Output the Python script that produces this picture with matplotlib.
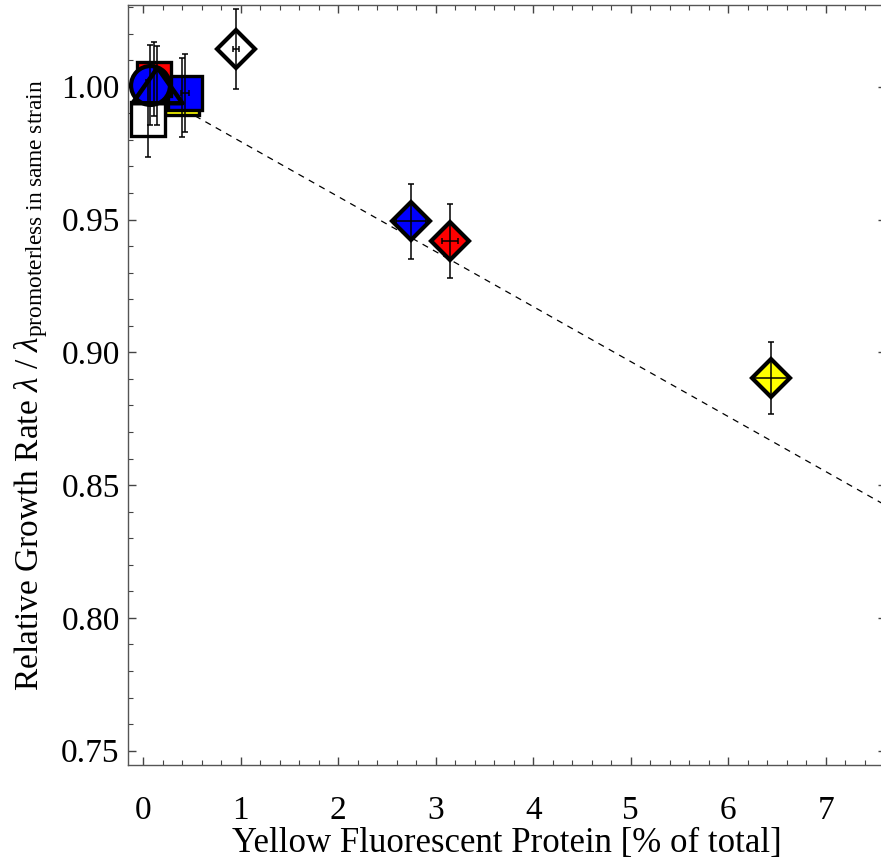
""" Relative growth rate versus YFP burden """

import matplotlib
matplotlib.use("Agg")
from matplotlib import pyplot as plt
from matplotlib.ticker import MultipleLocator

plt.rcParams['font.family'] = ['Liberation Serif', 'DejaVu Serif']
plt.rcParams['mathtext.fontset'] = 'custom'
plt.rcParams['mathtext.rm'] = 'Liberation Serif'
plt.rcParams['mathtext.it'] = 'Liberation Serif:italic'

# strains near zero YFP (promoterless / weak constructs)
sq_x = [0.40, 0.43, 0.05, 0.11]
sq_y = [0.9958, 0.9977, 0.988, 1.003]
sq_err = [0.0149, 0.0147, 0.0145, 0.014]
sq_xerr = [0.0, 0.04, 0.0, 0.0]
sq_colors = ['#ffff00', '#0000ff', '#ffffff', '#ff0000']

circle_x, circle_y, circle_err = 0.07, 1.0006, 0.015
tri_x, tri_y, tri_err = 0.14, 1.0005, 0.015

# YFP expressing strains
dia_x = [0.951, 2.745, 3.145, 6.439]
dia_y = [1.0142, 0.9494, 0.9419, 0.8903]
dia_err = [0.0151, 0.0141, 0.0141, 0.0134]
dia_xerr = [0.03, 0.15, 0.085, 0.17]
dia_colors = ['#ffffff', '#0000ff', '#ff0000', '#ffff00']

# linear fit
fit_intercept = 1.0
fit_slope = -0.0207

fig = plt.figure(figsize=(8.81, 8.63), dpi=100)
# right edge runs slightly past the canvas so the right frame is not drawn
ax = fig.add_axes([128 / 881, 1 - 765 / 863, 758 / 881, 760 / 863])

ax.set_xlim(-0.157, 7.618)
ax.set_ylim(0.74462, 1.03076)

fx = [0.0, 7.7]
ax.plot(fx, [fit_intercept + fit_slope * v for v in fx], color='black',
        lw=0.9, linestyle=(0, (5, 4.5)), zorder=1)

err_kw = dict(fmt='none', ecolor='black', elinewidth=1.1, capsize=2.5,
              capthick=1.1, zorder=10)

for x, y, e, xe, c in zip(sq_x, sq_y, sq_err, sq_xerr, sq_colors):
    ax.plot(x, y, marker='s', ms=25, mfc=c, mec='black', mew=2.4, zorder=3)
    ax.errorbar(x, y, yerr=e, xerr=xe if xe else None, **err_kw)

ax.plot(circle_x, circle_y, marker='o', ms=28, mfc='#0000ff', mec='black',
        mew=3, zorder=4)
ax.errorbar(circle_x, circle_y, yerr=circle_err, **err_kw)

tri_marker = [(0, 0.71), (-1, -0.71), (1, -0.71), (0, 0.71)]
ax.plot(tri_x, tri_y, marker=tri_marker, ms=36, mfc='none', mec='black',
        mew=3.2, zorder=5)
ax.errorbar(tri_x, tri_y, yerr=tri_err, **err_kw)

for x, y, e, xe, c in zip(dia_x, dia_y, dia_err, dia_xerr, dia_colors):
    ax.plot(x, y, marker='D', ms=19, mfc=c, mec='black', mew=3, zorder=3)
    ax.errorbar(x, y, yerr=e, xerr=xe, **err_kw)

ax.xaxis.set_major_locator(MultipleLocator(1))
ax.xaxis.set_minor_locator(MultipleLocator(0.2))
ax.yaxis.set_major_locator(MultipleLocator(0.05))
ax.yaxis.set_minor_locator(MultipleLocator(0.01))
ax.yaxis.set_major_formatter(plt.FormatStrFormatter('%.2f'))

for s in ax.spines.values():
    s.set_color('#555555')
    s.set_linewidth(1.0)

ax.tick_params(which='both', direction='in', top=True, right=True,
               color='#444444', labelsize=24)
ax.tick_params(which='major', length=6, width=1.0)
ax.tick_params(which='minor', length=3.5, width=0.8)
ax.tick_params(axis='x', pad=22)
ax.tick_params(axis='y', pad=6)

ax.set_xlabel('Yellow Fluorescent Protein [% of total]', fontsize=25,
              labelpad=1)
ax.set_ylabel(r'Relative Growth Rate $\lambda$ / $\lambda_{\mathrm{promoterless\ in\ same\ strain}}$',
              fontsize=24, labelpad=8)

fig.savefig('out.png', dpi=100)
